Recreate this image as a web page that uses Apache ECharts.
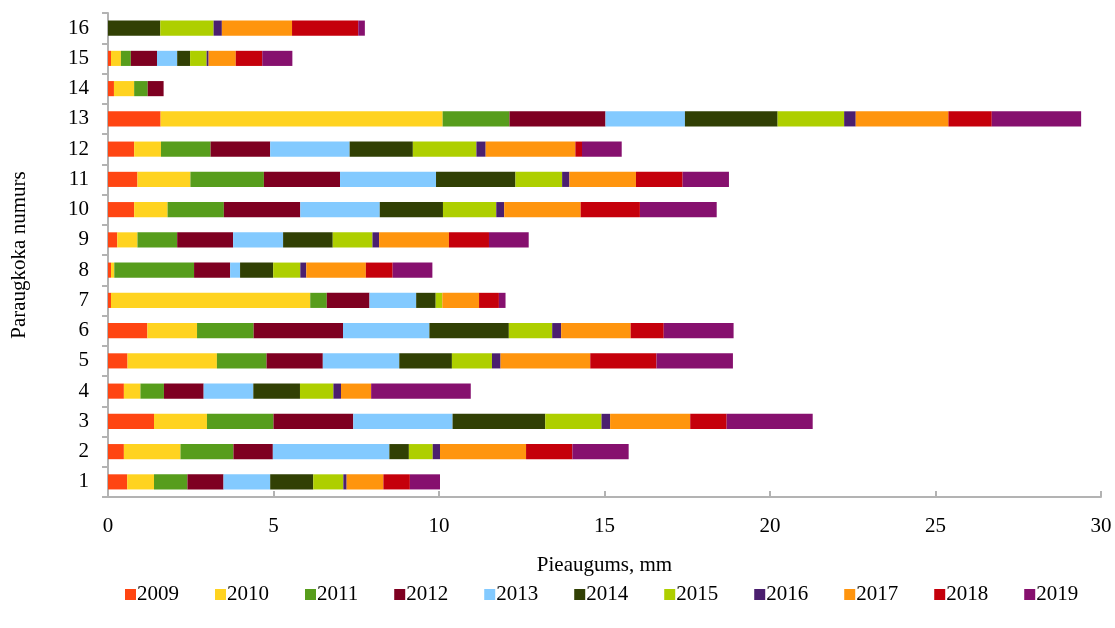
<!DOCTYPE html>
<html>
<head>
<meta charset="utf-8">
<script src="https://cdn.jsdelivr.net/npm/echarts@6/dist/echarts.min.js"></script>
<style>html,body{margin:0;padding:0;background:#fff}#c{width:1115px;height:628px}</style>
</head>
<body>
<div id="c"></div>
<script>
const categories = ['1','2','3','4','5','6','7','8','9','10','11','12','13','14','15','16'];
const years = ['2009','2010','2011','2012','2013','2014','2015','2016','2017','2018','2019'];
const colors = ['#FF4512','#FFD320','#579D1C','#7E0021','#83CAFF','#314004','#AECF00','#4B1F6F','#FF950E','#C5000B','#86106E'];
// values per year, index = sample number 1..16
const v2009 = [0.58,0.48,1.39,0.48,0.59,1.19,0.09,0.09,0.28,0.79,0.89,0.79,1.59,0.18,0.09,0];
const v2010 = [0.81,1.71,1.60,0.50,2.70,1.50,6.02,0.10,0.61,1.01,1.60,0.81,8.52,0.61,0.30,0];
const v2011 = [1.01,1.60,2.01,0.71,1.50,1.71,0.50,2.41,1.20,1.70,2.22,1.50,2.02,0.41,0.30,0];
const v2012 = [1.09,1.19,2.41,1.20,1.70,2.70,1.29,1.09,1.69,2.31,2.30,1.80,2.90,0.48,0.79,0];
const v2013 = [1.41,3.52,3.00,1.50,2.31,2.61,1.41,0.30,1.51,2.40,2.90,2.40,2.40,0,0.61,0];
const v2014 = [1.30,0.59,2.80,1.41,1.59,2.40,0.59,1.00,1.50,1.91,2.40,1.91,2.80,0,0.39,1.58];
const v2015 = [0.91,0.72,1.70,1.01,1.21,1.31,0.20,0.82,1.20,1.61,1.41,1.92,2.01,0,0.50,1.61];
const v2016 = [0.10,0.22,0.26,0.23,0.26,0.27,0,0.18,0.20,0.24,0.22,0.28,0.35,0,0.06,0.25];
const v2017 = [1.11,2.60,2.42,0.91,2.71,2.10,1.11,1.80,2.11,2.31,2.01,2.71,2.80,0,0.82,2.12];
const v2018 = [0.80,1.40,1.10,0,2.00,1.00,0.60,0.81,1.21,1.79,1.41,0.20,1.31,0,0.80,2.00];
const v2019 = [0.91,1.70,2.60,3.01,2.31,2.11,0.20,1.20,1.20,2.32,1.40,1.20,2.70,0,0.91,0.20];
const seriesValues = [v2009,v2010,v2011,v2012,v2013,v2014,v2015,v2016,v2017,v2018,v2019];
const xTicks = {min:0, max:30, interval:5};

const font = 'Liberation Serif';
const chart = echarts.init(document.getElementById('c'));
chart.setOption({
  animation:false,
  color: colors,
  grid:{left:108, right:14, top:13, bottom:131, containLabel:false},
  legend:{
    data: years, top: 579, left: 120, itemWidth:11, itemHeight:11, itemGap:36,
    icon:'rect', textStyle:{fontFamily:font, fontSize:21, color:'#000', padding:[0,0,0,-4]}
  },
  xAxis:{
    type:'value', min:xTicks.min, max:xTicks.max, interval:xTicks.interval,
    name:'Pieaugums, mm', nameLocation:'middle', nameGap:58,
    nameTextStyle:{fontFamily:font, fontSize:21, color:'#000'},
    axisLine:{show:true, lineStyle:{color:'#b3b3b3', width:2}},
    axisTick:{show:true, inside:true, length:6, lineStyle:{color:'#b3b3b3', width:2}},
    axisLabel:{fontFamily:font, fontSize:21, color:'#000', margin:19},
    splitLine:{show:false}
  },
  yAxis:{
    type:'category', data: categories,
    name:'Paraugkoka numurs', nameLocation:'middle', nameGap:78,
    nameTextStyle:{fontFamily:font, fontSize:21, color:'#000'},
    axisLine:{show:true, lineStyle:{color:'#b3b3b3', width:2}},
    axisTick:{show:true, length:6, lineStyle:{color:'#b3b3b3', width:2}},
    axisLabel:{fontFamily:font, fontSize:21, color:'#000', margin:19},
    splitLine:{show:false}
  },
  series: years.map((y,i)=>({
    name:y, type:'bar', stack:'total', data: seriesValues[i], barWidth:'50%',
    itemStyle:{color:colors[i]}
  }))
});
</script>
</body>
</html>
